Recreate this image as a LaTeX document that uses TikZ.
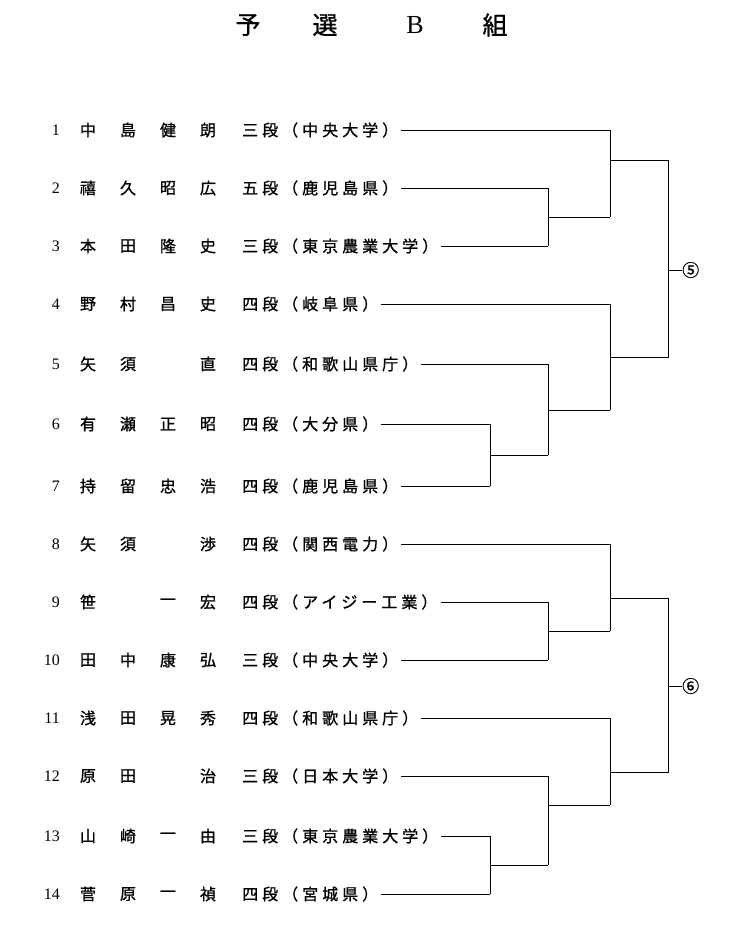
\documentclass[tikz,border=0pt]{standalone}
\usepackage{fontspec}
\setmainfont{Liberation Serif}
\newfontfamily\jp[LetterSpace=25,FakeBold=1]{Noto Sans CJK JP}
\newfontfamily\jpt[FakeBold=1]{Noto Sans CJK JP}
\begin{document}
\begin{tikzpicture}[x=1pt,y=-1pt,
  txt/.style={inner sep=0pt,anchor=west,font=\jp\fontsize{16}{16}\selectfont},
  ch/.style={inner sep=0pt,font=\jpt\fontsize{16}{16}\selectfont},
  num/.style={inner sep=0pt,anchor=east,font=\fontsize{16}{16}\selectfont},
  ln/.style={line width=0.8pt},
  circ/.style={inner sep=0pt,anchor=west,font=\jpt\fontsize{17}{17}\selectfont}]
\useasboundingbox (0,0) rectangle (747,948);
\foreach \c/\x in {予/248,選/325,組/495} \node[ch,font=\jpt\fontsize{25}{25}\selectfont] at (\x,25) {\c};
\node[inner sep=0pt,font=\fontsize{26}{26}\selectfont] at (415,25) {B};
\foreach \i/\y/\a/\b/\c/\d/\r in {
1/130/中/島/健/朗/三段（中央大学）,
2/188/禧/久/昭/広/五段（鹿児島県）,
3/246/本/田/隆/史/三段（東京農業大学）,
4/304/野/村/昌/史/四段（岐阜県）,
5/364/矢/須/{}/直/四段（和歌山県庁）,
6/424/有/瀬/正/昭/四段（大分県）,
7/486/持/留/忠/浩/四段（鹿児島県）,
8/544/矢/須/{}/渉/四段（関西電力）,
9/602/笹/{}/一/宏/四段（アイジー工業）,
10/660/田/中/康/弘/三段（中央大学）,
11/718/浅/田/晃/秀/四段（和歌山県庁）,
12/776/原/田/{}/治/三段（日本大学）,
13/836/山/崎/一/由/三段（東京農業大学）,
14/894/菅/原/一/禎/四段（宮城県）}{
  \node[num] at (60,\y) {\i};
  \node[ch] at (88,\y) {\a};
  \node[ch] at (128,\y) {\b};
  \node[ch] at (168,\y) {\c};
  \node[ch] at (208,\y) {\d};
  \node[txt] (r\i) at (242,\y) {\r};
}
% block 5
\coordinate (a1) at (610,130);
\coordinate (a23) at (548,217);
\draw[ln] (r1.east)++(3,0) -- (a1);
\draw[ln] (r2.east)++(3,0) -- (548,188) -- (548,246);
\draw[ln] (r3.east)++(3,0) -- (548,246);
\draw[ln] (a23) -- (610,217);
\draw[ln] (a1) -- (610,217);
\coordinate (t1) at (610,160);
\draw[ln] (r4.east)++(3,0) -- (610,304) -- (610,410);
\draw[ln] (r5.east)++(3,0) -- (548,364) -- (548,455);
\draw[ln] (r6.east)++(3,0) -- (490,424) -- (490,486);
\draw[ln] (r7.east)++(3,0) -- (490,486);
\draw[ln] (490,455) -- (548,455);
\draw[ln] (548,410) -- (610,410);
\draw[ln] (t1) -- (668,160) -- (668,357) -- (610,357);
\draw[ln] (668,270) -- (682,270);
\node[circ] (c5) at (682,270) {⑤};
% block 6
\draw[ln] (r8.east)++(3,0) -- (610,544) -- (610,631);
\draw[ln] (r9.east)++(3,0) -- (548,602) -- (548,660);
\draw[ln] (r10.east)++(3,0) -- (548,660);
\draw[ln] (548,631) -- (610,631);
\draw[ln] (r11.east)++(3,0) -- (610,718) -- (610,805);
\draw[ln] (r12.east)++(3,0) -- (548,776) -- (548,865);
\draw[ln] (r13.east)++(3,0) -- (490,836) -- (490,894);
\draw[ln] (r14.east)++(3,0) -- (490,894);
\draw[ln] (490,865) -- (548,865);
\draw[ln] (548,805) -- (610,805);
\draw[ln] (610,598) -- (668,598) -- (668,772) -- (610,772);
\draw[ln] (668,686) -- (682,686);
\node[circ] (c6) at (682,686) {⑥};
\end{tikzpicture}
\end{document}
